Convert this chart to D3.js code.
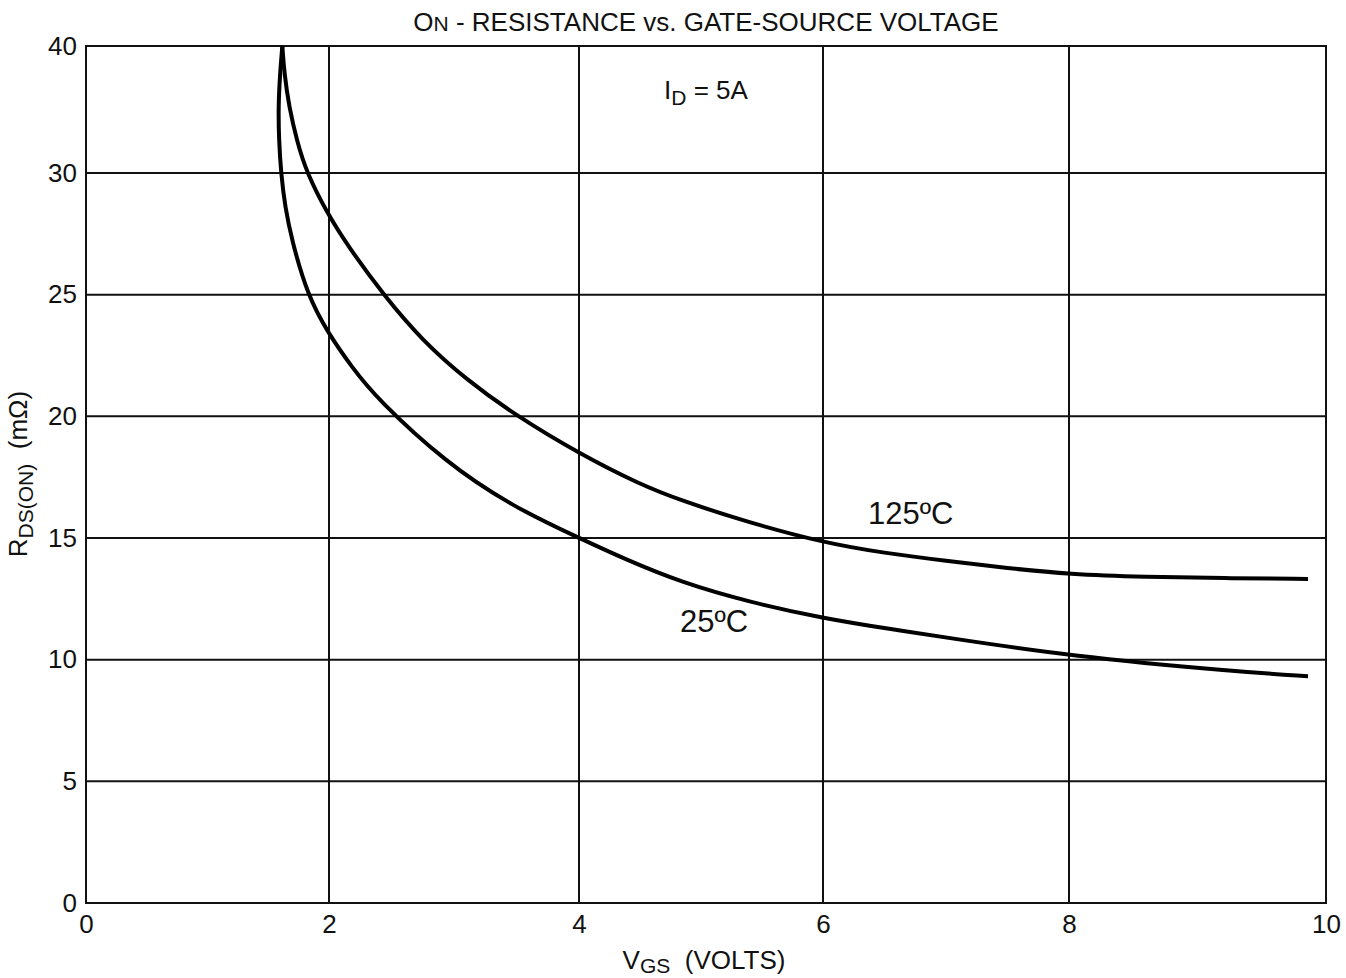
<!DOCTYPE html>
<html>
<head>
<meta charset="utf-8">
<script src="https://cdn.jsdelivr.net/npm/d3@7"></script>
<style>
  body { margin: 0; background: #fff; }
  svg text { font-family: "Liberation Sans", Arial, Helvetica, sans-serif; fill: #111; }
</style>
</head>
<body>
<svg></svg>
<script>
// values
const xTicks = [0, 2, 4, 6, 8, 10];
const yTicks = [0, 5, 10, 15, 20, 25, 30, 40];

// 25 C curve
const vgs25 = [1.616, 1.597, 1.583, 1.588, 1.605, 1.638, 1.693, 1.825, 1.994, 2.18, 2.38, 2.94, 3.47, 4.00, 4.39, 4.83, 5.39, 6.00, 6.57, 6.95, 8.00, 9.33, 9.86];
const rds25 = [40, 37.85, 35.22, 32.6, 30.0, 28.62, 27.25, 24.95, 23.41, 22.04, 20.74, 18.07, 16.29, 15.0, 14.10, 13.19, 12.37, 11.70, 11.24, 10.95, 10.15, 9.5, 9.32];

// 125 C curve
const vgs125 = [1.616, 1.632, 1.671, 1.734, 1.816, 1.994, 2.155, 2.442, 2.742, 3.102, 3.502, 4.008, 4.50, 4.83, 5.37, 6.00, 6.50, 7.00, 7.50, 8.00, 8.60, 9.20, 9.86];
const rds125 = [40, 37.85, 35.22, 32.6, 30.0, 28.27, 26.97, 24.95, 23.14, 21.49, 20.01, 18.45, 17.2, 16.55, 15.67, 14.81, 14.38, 14.06, 13.76, 13.51, 13.40, 13.35, 13.32];

// setup
const width = 1346;
const height = 978;
const plotLeft = 86;
const plotRight = 1326;
const plotTop = 46;
const plotBottom = 903;

const svg = d3.select('svg')
  .attr('width', width)
  .attr('height', height);

// scales (the printed grid is a bit uneven, and 30 -> 40 is squeezed into one cell)
const xScale = d3.scaleLinear()
  .domain(xTicks)
  .range([plotLeft, 329, 579, 823, 1069, plotRight]);

const yScale = d3.scaleLinear()
  .domain([0, 30, 40])
  .range([plotBottom, 173, plotTop]);

// grid
const grid = svg.append('g')
  .attr('stroke', '#111')
  .attr('stroke-width', 2);

grid.selectAll('.vline')
  .data(xTicks.slice(1, -1))
  .enter()
  .append('line')
  .attr('x1', d => xScale(d))
  .attr('x2', d => xScale(d))
  .attr('y1', plotTop)
  .attr('y2', plotBottom);

grid.selectAll('.hline')
  .data(yTicks.slice(1, -1))
  .enter()
  .append('line')
  .attr('x1', plotLeft)
  .attr('x2', plotRight)
  .attr('y1', d => yScale(d))
  .attr('y2', d => yScale(d));

grid.append('rect')
  .attr('x', plotLeft)
  .attr('y', plotTop)
  .attr('width', plotRight - plotLeft)
  .attr('height', plotBottom - plotTop)
  .attr('fill', 'none');

// axes
const yAxis = svg.append('g')
  .attr('transform', 'translate(' + plotLeft + ', 0)')
  .call(d3.axisLeft(yScale).tickValues(yTicks).tickSize(0).tickPadding(9).tickFormat(d3.format('d')));

const xAxis = svg.append('g')
  .attr('transform', 'translate(0, ' + plotBottom + ')')
  .call(d3.axisBottom(xScale).tickValues(xTicks).tickSize(0).tickPadding(12).tickFormat(d3.format('d')));

[xAxis, yAxis].forEach(function (ax) {
  ax.select('.domain').remove();
  ax.selectAll('text')
    .attr('fill', '#111')
    .style('font-size', '26px')
    .style('font-family', '"Liberation Sans", Arial, sans-serif');
});

// curves
const line = d3.line()
  .x(d => xScale(d[0]))
  .y(d => yScale(d[1]))
  .curve(d3.curveBasis);

const curves = [
  d3.zip(vgs25, rds25),
  d3.zip(vgs125, rds125)
];

svg.selectAll('.curve')
  .data(curves)
  .enter()
  .append('path')
  .attr('class', 'curve')
  .attr('d', line)
  .attr('fill', 'none')
  .attr('stroke', '#000')
  .attr('stroke-width', 4)
  .attr('stroke-linejoin', 'round');

// curve labels
svg.append('text')
  .attr('x', 868)
  .attr('y', 524)
  .style('font-size', '31px')
  .text('125ºC');

svg.append('text')
  .attr('x', 680)
  .attr('y', 632)
  .style('font-size', '31px')
  .text('25ºC');

// title
const title = svg.append('text')
  .attr('x', (plotLeft + plotRight) / 2)
  .attr('y', 31)
  .attr('text-anchor', 'middle')
  .style('font-size', '26px');
title.append('tspan').text('O');
title.append('tspan').style('font-size', '21px').text('N');
title.append('tspan').text(' - RESISTANCE vs. GATE-SOURCE VOLTAGE');

// condition
const cond = svg.append('text')
  .attr('x', 706)
  .attr('y', 99)
  .attr('text-anchor', 'middle')
  .style('font-size', '26px');
cond.append('tspan').text('I');
cond.append('tspan').attr('dy', 6).style('font-size', '21px').text('D');
cond.append('tspan').attr('dy', -6).text(' = 5A');

// x label
const xLabel = svg.append('text')
  .attr('x', 704)
  .attr('y', 969)
  .attr('text-anchor', 'middle')
  .style('font-size', '26px');
xLabel.append('tspan').text('V');
xLabel.append('tspan').attr('dy', 4).style('font-size', '21px').text('GS');
xLabel.append('tspan').attr('dy', -4).text('\u00a0 (VOLTS)');

// y label
const yLabel = svg.append('text')
  .attr('transform', 'translate(27, 474) rotate(-90)')
  .attr('text-anchor', 'middle')
  .style('font-size', '26px');
yLabel.append('tspan').text('R');
yLabel.append('tspan').attr('dy', 6).style('font-size', '21px').text('DS(ON)');
yLabel.append('tspan').attr('dy', -6).text('\u00a0 (mΩ)');
</script>
</body>
</html>
